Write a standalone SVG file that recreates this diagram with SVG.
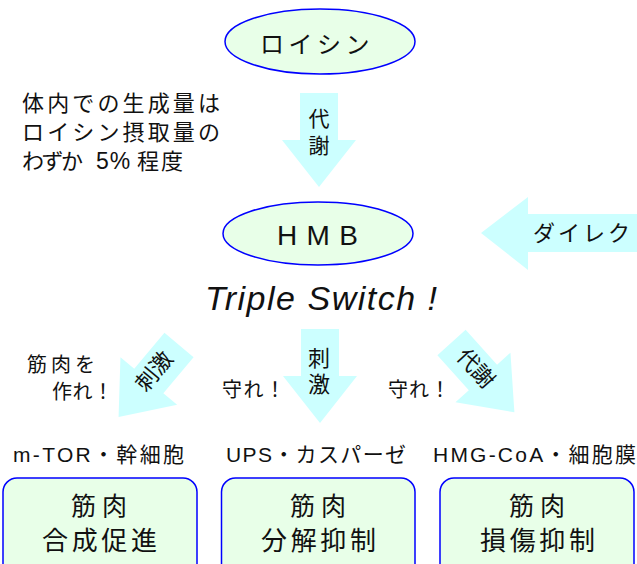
<svg xmlns="http://www.w3.org/2000/svg" width="637" height="564" viewBox="0 0 637 564">
<defs>
<style>
.t{font-family:"Liberation Sans","Noto Sans CJK JP",sans-serif;fill:#111;}
.ell{fill:#E8FFE8;stroke:#0000FF;stroke-width:1.5;}
.box{fill:#E8FFE8;stroke:#0000FF;stroke-width:1.5;}
.arr{fill:#CCFFFF;stroke:none;}
</style>
<polygon id="varrow" points="-19,0 19,0 19,47 37,47 0,94 -37,47 -19,47"/>
</defs>
<rect width="637" height="564" fill="#FFFFFF"/>

<g id="connectors">
  <use href="#varrow" class="arr" transform="translate(319,93)"/>
  <use href="#varrow" class="arr" transform="translate(320,329)"/>
  <use href="#varrow" class="arr" transform="translate(179,345) rotate(40)"/>
  <use href="#varrow" class="arr" transform="translate(451.5,342.5) rotate(-42)"/>
  <polygon class="arr" points="481,233 528,197 528,214 640,214 640,252 528,252 528,270"/>
  <text class="t" font-size="21" text-anchor="middle" x="319" y="125.5">代</text>
  <text class="t" font-size="21" text-anchor="middle" x="319" y="152.5">謝</text>
  <text class="t" font-size="22" text-anchor="middle" x="319" y="365.5">刺</text>
  <text class="t" font-size="22" text-anchor="middle" x="319" y="391.5">激</text>
  <text class="t" font-size="22" text-anchor="middle" x="154" y="379" transform="rotate(-50 154 371)">刺激</text>
  <text class="t" font-size="22" text-anchor="middle" x="476" y="376" transform="rotate(48 476 368)">代謝</text>
  <text class="t" font-size="22" x="533" y="241" letter-spacing="3">ダイレク</text>
</g>

<g id="leucine">
  <ellipse class="ell" cx="320" cy="41.5" rx="95" ry="32.5"/>
  <text class="t" font-size="24" x="260" y="53" letter-spacing="4.5">ロイシン</text>
</g>

<g id="note">
  <text class="t" font-size="22" x="22" y="111" textLength="198" lengthAdjust="spacing">体内での生成量は</text>
  <text class="t" font-size="22" x="22" y="140" textLength="198" lengthAdjust="spacing">ロイシン摂取量の</text>
  <text class="t" font-size="22" y="169"><tspan x="22" textLength="61" lengthAdjust="spacing">わずか</tspan><tspan x="96" font-size="23" letter-spacing="1">5%</tspan><tspan x="137" letter-spacing="2">程度</tspan></text>
</g>

<g id="hmb">
  <ellipse class="ell" cx="318" cy="233.5" rx="95" ry="31.5"/>
  <text class="t" font-size="28" x="277" y="245" textLength="81" lengthAdjust="spacing">HMB</text>
</g>

<g id="title">
  <text class="t" font-size="34" font-style="italic" x="205" y="310" textLength="232" lengthAdjust="spacing">Triple Switch !</text>
</g>

<g id="labels">
  <text class="t" font-size="20" x="27" y="371.5" textLength="68" lengthAdjust="spacing">筋肉を</text>
  <text class="t" font-size="20" x="52" y="398.5" textLength="61" lengthAdjust="spacing">作れ！</text>
  <text class="t" font-size="20" x="222" y="396.5" textLength="63" lengthAdjust="spacing">守れ！</text>
  <text class="t" font-size="20" x="388" y="396.5" textLength="62" lengthAdjust="spacing">守れ！</text>
</g>

<g id="box1">
  <text class="t" font-size="21" x="13" y="462" textLength="171" lengthAdjust="spacing">m-TOR・幹細胞</text>
  <rect class="box" x="3" y="478" width="194" height="100" rx="14"/>
  <text class="t" font-size="25" x="71" y="515" textLength="56" lengthAdjust="spacing">筋肉</text>
  <text class="t" font-size="26" x="42" y="550" textLength="115" lengthAdjust="spacing">合成促進</text>
</g>

<g id="box2">
  <text class="t" font-size="21" x="226" y="462" textLength="180" lengthAdjust="spacing">UPS・カスパーゼ</text>
  <rect class="box" x="221.5" y="478" width="193.5" height="100" rx="14"/>
  <text class="t" font-size="25" x="290" y="515" textLength="56" lengthAdjust="spacing">筋肉</text>
  <text class="t" font-size="26" x="261" y="550" textLength="115" lengthAdjust="spacing">分解抑制</text>
</g>

<g id="box3">
  <text class="t" font-size="21" x="433" y="462" textLength="203" lengthAdjust="spacing">HMG-CoA・細胞膜</text>
  <rect class="box" x="440" y="478" width="194" height="100" rx="14"/>
  <text class="t" font-size="25" x="509" y="515" textLength="56" lengthAdjust="spacing">筋肉</text>
  <text class="t" font-size="26" x="480" y="550" textLength="115" lengthAdjust="spacing">損傷抑制</text>
</g>
</svg>
